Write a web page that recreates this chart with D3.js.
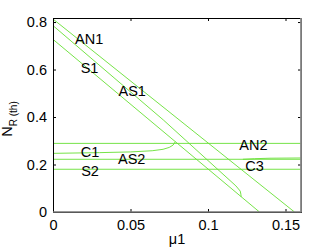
<!DOCTYPE html>
<html lang="en">
<head>
<meta charset="UTF-8">
<title>N_R(th) vs mu1</title>
<script src="https://d3js.org/d3.v7.min.js"></script>
<style>
  body { margin: 0; background: #fff; }
  text { font-family: "Liberation Sans", Arial, sans-serif; }
</style>
</head>
<body>
<svg id="chart" width="332" height="250"></svg>
<script>
// curves as [mu1, N_R(th)]
let diagTop = [[0, 0.8126], [0.1558, 0]]
let diagMid = [[0, 0.785], [0.0713, 0.387], [0.118, 0.11], [0.1208, 0.088], [0.1212, 0.075], [0.1214, 0.064]]
let diagLow = [[0, 0.727], [0.1332, 0]]
let lineAN2 = [[0, 0.289], [0.16, 0.289]]
let curveC1 = [[0, 0.247], [0.03, 0.250], [0.05, 0.253], [0.064, 0.258], [0.071, 0.264], [0.075, 0.272], [0.0775, 0.282], [0.0789, 0.296]]
let lineAS2 = [[0, 0.222], [0.16, 0.222]]
let curveC3 = [[0.1225, 0.222], [0.13, 0.2245], [0.14, 0.2265], [0.16, 0.2275]]
let lineS2 = [[0, 0.180], [0.16, 0.180]]
let curves = [diagTop, diagMid, diagLow, lineAN2, curveC1, lineAS2, curveC3, lineS2]

let labelNames = ["AN1", "S1", "AS1", "C1", "AS2", "S2", "AN2", "C3"]
let labelMu = [0.0233, 0.0236, 0.0511, 0.0239, 0.0508, 0.0239, 0.1293, 0.130]
let labelN = [0.728, 0.606, 0.509, 0.254, 0.222, 0.174, 0.282, 0.194]

let xTicks = [0, 0.05, 0.1, 0.15]
let yTicks = [0, 0.2, 0.4, 0.6, 0.8]

let svg = d3.select("#chart")
let padL = 53, padR = 301, padT = 18, padB = 212

let x = d3.scaleLinear().domain([0, 0.16]).range([padL, padR])
let y = d3.scaleLinear().domain([0, 0.817]).range([padB, padT])

let line = d3.line().x(d => x(d[0])).y(d => y(d[1]))

svg.append("rect").attr("width", 332).attr("height", 250).attr("fill", "#fff")

// curves
svg.append("g").selectAll("path").data(curves).enter()
  .append("path")
  .attr("d", line)
  .attr("fill", "none")
  .attr("stroke", "#66e033")
  .attr("stroke-width", 0.9)

// axes (ticks point inward, like matlab)
let fmt = d => d === 0 ? "0" : String(d)
svg.append("g").attr("transform", `translate(0,${padB})`)
  .call(d3.axisBottom(x).tickValues(xTicks).tickSizeInner(-3).tickSizeOuter(0).tickPadding(8).tickFormat(fmt))
svg.append("g").attr("transform", `translate(${padL},0)`)
  .call(d3.axisLeft(y).tickValues(yTicks).tickSizeInner(-3).tickSizeOuter(0).tickPadding(6).tickFormat(fmt))
svg.append("g").attr("transform", `translate(0,${padT})`)
  .call(d3.axisTop(x).tickValues(xTicks).tickSizeInner(-3).tickSizeOuter(0).tickFormat(""))
svg.append("g").attr("transform", `translate(${padR},0)`)
  .call(d3.axisRight(y).tickValues(yTicks).tickSizeInner(-3).tickSizeOuter(0).tickFormat(""))

svg.selectAll(".tick text").attr("font-size", 14.5).attr("fill", "#000")
  .attr("font-family", "Liberation Sans, Arial, sans-serif")
svg.selectAll(".domain").attr("stroke", "#000")
svg.selectAll(".tick line").attr("stroke", "#000")

// border, right and bottom render grey/thicker in the original
svg.append("line").attr("x1", padL).attr("x2", padR).attr("y1", padB).attr("y2", padB)
  .attr("stroke", "#777").attr("stroke-width", 1.6)
svg.append("line").attr("x1", padR).attr("x2", padR).attr("y1", padT).attr("y2", padB)
  .attr("stroke", "#888").attr("stroke-width", 1.8)

// in-plot labels
svg.append("g").selectAll("text").data(labelNames).enter()
  .append("text")
  .attr("x", (d, i) => x(labelMu[i]))
  .attr("y", (d, i) => y(labelN[i]) + 5)
  .attr("text-anchor", "middle")
  .attr("font-size", 14.5)
  .text(d => d)

// axis titles
svg.append("text").attr("x", 177).attr("y", 244).attr("text-anchor", "middle")
  .attr("font-size", 14.5).text("\u03bc1")
let yl = svg.append("text").attr("transform", "translate(12,119) rotate(-90)")
  .attr("text-anchor", "middle").attr("font-size", 14.5)
yl.append("tspan").text("N")
yl.append("tspan").attr("font-size", 10).attr("dy", 5).text("R (th)")
</script>
</body>
</html>
